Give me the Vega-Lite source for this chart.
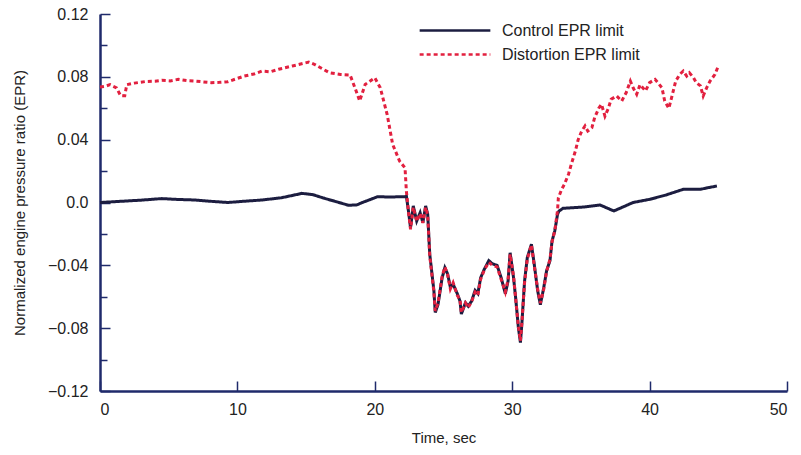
{
  "$schema": "https://vega.github.io/schema/vega-lite/v6.json",
  "width": 687,
  "height": 377,
  "autosize": {"type": "none"},
  "padding": {"left": 100, "top": 14, "right": 14, "bottom": 64},
  "background": "white",
  "config": {
    "view": {"stroke": null},
    "font": "Liberation Sans",
    "axis": {"domainColor": "#1f2a6b", "domainWidth": 2.5, "tickColor": "#1f2a6b", "tickWidth": 1.5, "labelFont": "Liberation Sans", "labelFontSize": 16, "labelColor": "#222", "titleFont": "Liberation Sans", "titleFontSize": 15, "titleFontWeight": "normal", "titleColor": "#222", "grid": false}
  },
  "data": {"values": [
    {"t": 0, "v": 0.0, "s": "Control EPR limit"},
    {"t": 1, "v": 0.0005, "s": "Control EPR limit"},
    {"t": 2, "v": 0.001, "s": "Control EPR limit"},
    {"t": 3, "v": 0.0015, "s": "Control EPR limit"},
    {"t": 4.5, "v": 0.0025, "s": "Control EPR limit"},
    {"t": 5.5, "v": 0.002, "s": "Control EPR limit"},
    {"t": 6.9, "v": 0.0016, "s": "Control EPR limit"},
    {"t": 8, "v": 0.0008, "s": "Control EPR limit"},
    {"t": 9.3, "v": 0.0, "s": "Control EPR limit"},
    {"t": 10.5, "v": 0.0008, "s": "Control EPR limit"},
    {"t": 11.8, "v": 0.0016, "s": "Control EPR limit"},
    {"t": 13.2, "v": 0.003, "s": "Control EPR limit"},
    {"t": 14.7, "v": 0.0058, "s": "Control EPR limit"},
    {"t": 15.5, "v": 0.005, "s": "Control EPR limit"},
    {"t": 16.2, "v": 0.003, "s": "Control EPR limit"},
    {"t": 17.2, "v": 0.0005, "s": "Control EPR limit"},
    {"t": 18.1, "v": -0.0018, "s": "Control EPR limit"},
    {"t": 18.7, "v": -0.0015, "s": "Control EPR limit"},
    {"t": 19.1, "v": 0.0, "s": "Control EPR limit"},
    {"t": 19.7, "v": 0.002, "s": "Control EPR limit"},
    {"t": 20.2, "v": 0.0037, "s": "Control EPR limit"},
    {"t": 21, "v": 0.0035, "s": "Control EPR limit"},
    {"t": 22.2, "v": 0.0037, "s": "Control EPR limit"},
    {"t": 22.3, "v": 0.004, "s": "Control EPR limit"},
    {"t": 22.45, "v": -0.0054, "s": "Control EPR limit"},
    {"t": 22.6, "v": -0.016, "s": "Control EPR limit"},
    {"t": 22.8, "v": -0.0022, "s": "Control EPR limit"},
    {"t": 23.05, "v": -0.0118, "s": "Control EPR limit"},
    {"t": 23.3, "v": -0.0065, "s": "Control EPR limit"},
    {"t": 23.5, "v": -0.0128, "s": "Control EPR limit"},
    {"t": 23.7, "v": -0.0022, "s": "Control EPR limit"},
    {"t": 23.85, "v": -0.0075, "s": "Control EPR limit"},
    {"t": 24.0, "v": -0.033, "s": "Control EPR limit"},
    {"t": 24.3, "v": -0.056, "s": "Control EPR limit"},
    {"t": 24.4, "v": -0.07, "s": "Control EPR limit"},
    {"t": 24.6, "v": -0.065, "s": "Control EPR limit"},
    {"t": 24.9, "v": -0.048, "s": "Control EPR limit"},
    {"t": 25.1, "v": -0.0415, "s": "Control EPR limit"},
    {"t": 25.3, "v": -0.0455, "s": "Control EPR limit"},
    {"t": 25.5, "v": -0.054, "s": "Control EPR limit"},
    {"t": 25.7, "v": -0.052, "s": "Control EPR limit"},
    {"t": 26.0, "v": -0.058, "s": "Control EPR limit"},
    {"t": 26.2, "v": -0.0627, "s": "Control EPR limit"},
    {"t": 26.3, "v": -0.071, "s": "Control EPR limit"},
    {"t": 26.6, "v": -0.0638, "s": "Control EPR limit"},
    {"t": 26.8, "v": -0.066, "s": "Control EPR limit"},
    {"t": 27.05, "v": -0.0627, "s": "Control EPR limit"},
    {"t": 27.3, "v": -0.056, "s": "Control EPR limit"},
    {"t": 27.5, "v": -0.058, "s": "Control EPR limit"},
    {"t": 27.7, "v": -0.048, "s": "Control EPR limit"},
    {"t": 27.97, "v": -0.0425, "s": "Control EPR limit"},
    {"t": 28.3, "v": -0.037, "s": "Control EPR limit"},
    {"t": 28.55, "v": -0.039, "s": "Control EPR limit"},
    {"t": 28.9, "v": -0.04, "s": "Control EPR limit"},
    {"t": 29.2, "v": -0.048, "s": "Control EPR limit"},
    {"t": 29.5, "v": -0.058, "s": "Control EPR limit"},
    {"t": 29.7, "v": -0.05, "s": "Control EPR limit"},
    {"t": 29.85, "v": -0.032, "s": "Control EPR limit"},
    {"t": 30.1, "v": -0.048, "s": "Control EPR limit"},
    {"t": 30.25, "v": -0.0606, "s": "Control EPR limit"},
    {"t": 30.45, "v": -0.0797, "s": "Control EPR limit"},
    {"t": 30.6, "v": -0.0892, "s": "Control EPR limit"},
    {"t": 30.7, "v": -0.0776, "s": "Control EPR limit"},
    {"t": 30.9, "v": -0.05, "s": "Control EPR limit"},
    {"t": 31.1, "v": -0.035, "s": "Control EPR limit"},
    {"t": 31.4, "v": -0.0266, "s": "Control EPR limit"},
    {"t": 31.6, "v": -0.039, "s": "Control EPR limit"},
    {"t": 31.85, "v": -0.056, "s": "Control EPR limit"},
    {"t": 32.05, "v": -0.065, "s": "Control EPR limit"},
    {"t": 32.3, "v": -0.054, "s": "Control EPR limit"},
    {"t": 32.5, "v": -0.0436, "s": "Control EPR limit"},
    {"t": 32.75, "v": -0.037, "s": "Control EPR limit"},
    {"t": 32.9, "v": -0.0245, "s": "Control EPR limit"},
    {"t": 33.1, "v": -0.018, "s": "Control EPR limit"},
    {"t": 33.3, "v": -0.0075, "s": "Control EPR limit"},
    {"t": 33.4, "v": -0.0055, "s": "Control EPR limit"},
    {"t": 33.7, "v": -0.0037, "s": "Control EPR limit"},
    {"t": 35.2, "v": -0.0029, "s": "Control EPR limit"},
    {"t": 36.4, "v": -0.0016, "s": "Control EPR limit"},
    {"t": 37.4, "v": -0.0054, "s": "Control EPR limit"},
    {"t": 38.8, "v": 0.0, "s": "Control EPR limit"},
    {"t": 40.0, "v": 0.002, "s": "Control EPR limit"},
    {"t": 41.2, "v": 0.0048, "s": "Control EPR limit"},
    {"t": 42.45, "v": 0.0084, "s": "Control EPR limit"},
    {"t": 43.7, "v": 0.0084, "s": "Control EPR limit"},
    {"t": 44.3, "v": 0.0095, "s": "Control EPR limit"},
    {"t": 44.9, "v": 0.0105, "s": "Control EPR limit"},

    {"t": 0, "v": 0.0735, "s": "Distortion EPR limit"},
    {"t": 0.4, "v": 0.074, "s": "Distortion EPR limit"},
    {"t": 0.73, "v": 0.075, "s": "Distortion EPR limit"},
    {"t": 1.2, "v": 0.073, "s": "Distortion EPR limit"},
    {"t": 1.5, "v": 0.068, "s": "Distortion EPR limit"},
    {"t": 1.8, "v": 0.068, "s": "Distortion EPR limit"},
    {"t": 1.95, "v": 0.075, "s": "Distortion EPR limit"},
    {"t": 2.5, "v": 0.076, "s": "Distortion EPR limit"},
    {"t": 3.3, "v": 0.077, "s": "Distortion EPR limit"},
    {"t": 4.0, "v": 0.0772, "s": "Distortion EPR limit"},
    {"t": 4.5, "v": 0.0778, "s": "Distortion EPR limit"},
    {"t": 5.1, "v": 0.0774, "s": "Distortion EPR limit"},
    {"t": 5.7, "v": 0.0784, "s": "Distortion EPR limit"},
    {"t": 6.3, "v": 0.0776, "s": "Distortion EPR limit"},
    {"t": 6.9, "v": 0.0773, "s": "Distortion EPR limit"},
    {"t": 7.5, "v": 0.0768, "s": "Distortion EPR limit"},
    {"t": 8.1, "v": 0.0763, "s": "Distortion EPR limit"},
    {"t": 8.7, "v": 0.0765, "s": "Distortion EPR limit"},
    {"t": 9.3, "v": 0.0769, "s": "Distortion EPR limit"},
    {"t": 10.5, "v": 0.0805, "s": "Distortion EPR limit"},
    {"t": 11.2, "v": 0.0818, "s": "Distortion EPR limit"},
    {"t": 11.8, "v": 0.0837, "s": "Distortion EPR limit"},
    {"t": 12.4, "v": 0.0832, "s": "Distortion EPR limit"},
    {"t": 13, "v": 0.0848, "s": "Distortion EPR limit"},
    {"t": 14, "v": 0.0869, "s": "Distortion EPR limit"},
    {"t": 15.2, "v": 0.0894, "s": "Distortion EPR limit"},
    {"t": 15.6, "v": 0.088, "s": "Distortion EPR limit"},
    {"t": 16.7, "v": 0.0826, "s": "Distortion EPR limit"},
    {"t": 17.5, "v": 0.0815, "s": "Distortion EPR limit"},
    {"t": 18.2, "v": 0.0812, "s": "Distortion EPR limit"},
    {"t": 18.6, "v": 0.072, "s": "Distortion EPR limit"},
    {"t": 18.9, "v": 0.0646, "s": "Distortion EPR limit"},
    {"t": 19.3, "v": 0.0752, "s": "Distortion EPR limit"},
    {"t": 20, "v": 0.0794, "s": "Distortion EPR limit"},
    {"t": 20.4, "v": 0.073, "s": "Distortion EPR limit"},
    {"t": 20.9, "v": 0.056, "s": "Distortion EPR limit"},
    {"t": 21.3, "v": 0.037, "s": "Distortion EPR limit"},
    {"t": 21.8, "v": 0.0264, "s": "Distortion EPR limit"},
    {"t": 22.2, "v": 0.022, "s": "Distortion EPR limit"},
    {"t": 22.3, "v": 0.007, "s": "Distortion EPR limit"},
    {"t": 22.45, "v": -0.006, "s": "Distortion EPR limit"},
    {"t": 22.6, "v": -0.017, "s": "Distortion EPR limit"},
    {"t": 22.8, "v": -0.003, "s": "Distortion EPR limit"},
    {"t": 23.05, "v": -0.012, "s": "Distortion EPR limit"},
    {"t": 23.3, "v": -0.007, "s": "Distortion EPR limit"},
    {"t": 23.5, "v": -0.013, "s": "Distortion EPR limit"},
    {"t": 23.7, "v": -0.003, "s": "Distortion EPR limit"},
    {"t": 23.85, "v": -0.008, "s": "Distortion EPR limit"},
    {"t": 24.0, "v": -0.034, "s": "Distortion EPR limit"},
    {"t": 24.3, "v": -0.057, "s": "Distortion EPR limit"},
    {"t": 24.4, "v": -0.069, "s": "Distortion EPR limit"},
    {"t": 24.6, "v": -0.064, "s": "Distortion EPR limit"},
    {"t": 24.9, "v": -0.047, "s": "Distortion EPR limit"},
    {"t": 25.1, "v": -0.041, "s": "Distortion EPR limit"},
    {"t": 25.3, "v": -0.046, "s": "Distortion EPR limit"},
    {"t": 25.5, "v": -0.055, "s": "Distortion EPR limit"},
    {"t": 25.7, "v": -0.051, "s": "Distortion EPR limit"},
    {"t": 26.0, "v": -0.059, "s": "Distortion EPR limit"},
    {"t": 26.2, "v": -0.062, "s": "Distortion EPR limit"},
    {"t": 26.3, "v": -0.07, "s": "Distortion EPR limit"},
    {"t": 26.6, "v": -0.064, "s": "Distortion EPR limit"},
    {"t": 26.8, "v": -0.067, "s": "Distortion EPR limit"},
    {"t": 27.05, "v": -0.063, "s": "Distortion EPR limit"},
    {"t": 27.3, "v": -0.057, "s": "Distortion EPR limit"},
    {"t": 27.5, "v": -0.059, "s": "Distortion EPR limit"},
    {"t": 27.7, "v": -0.049, "s": "Distortion EPR limit"},
    {"t": 27.97, "v": -0.043, "s": "Distortion EPR limit"},
    {"t": 28.3, "v": -0.038, "s": "Distortion EPR limit"},
    {"t": 28.55, "v": -0.04, "s": "Distortion EPR limit"},
    {"t": 28.9, "v": -0.041, "s": "Distortion EPR limit"},
    {"t": 29.2, "v": -0.049, "s": "Distortion EPR limit"},
    {"t": 29.5, "v": -0.057, "s": "Distortion EPR limit"},
    {"t": 29.7, "v": -0.049, "s": "Distortion EPR limit"},
    {"t": 29.85, "v": -0.033, "s": "Distortion EPR limit"},
    {"t": 30.1, "v": -0.047, "s": "Distortion EPR limit"},
    {"t": 30.25, "v": -0.061, "s": "Distortion EPR limit"},
    {"t": 30.45, "v": -0.079, "s": "Distortion EPR limit"},
    {"t": 30.6, "v": -0.088, "s": "Distortion EPR limit"},
    {"t": 30.7, "v": -0.077, "s": "Distortion EPR limit"},
    {"t": 30.9, "v": -0.051, "s": "Distortion EPR limit"},
    {"t": 31.1, "v": -0.036, "s": "Distortion EPR limit"},
    {"t": 31.4, "v": -0.027, "s": "Distortion EPR limit"},
    {"t": 31.6, "v": -0.04, "s": "Distortion EPR limit"},
    {"t": 31.85, "v": -0.055, "s": "Distortion EPR limit"},
    {"t": 32.05, "v": -0.064, "s": "Distortion EPR limit"},
    {"t": 32.3, "v": -0.055, "s": "Distortion EPR limit"},
    {"t": 32.5, "v": -0.044, "s": "Distortion EPR limit"},
    {"t": 32.75, "v": -0.036, "s": "Distortion EPR limit"},
    {"t": 32.9, "v": -0.025, "s": "Distortion EPR limit"},
    {"t": 33.1, "v": -0.018, "s": "Distortion EPR limit"},
    {"t": 33.3, "v": -0.005, "s": "Distortion EPR limit"},
    {"t": 33.36, "v": 0.003, "s": "Distortion EPR limit"},
    {"t": 33.6, "v": 0.0084, "s": "Distortion EPR limit"},
    {"t": 33.8, "v": 0.0116, "s": "Distortion EPR limit"},
    {"t": 34.1, "v": 0.018, "s": "Distortion EPR limit"},
    {"t": 34.3, "v": 0.0243, "s": "Distortion EPR limit"},
    {"t": 34.6, "v": 0.0328, "s": "Distortion EPR limit"},
    {"t": 34.8, "v": 0.04, "s": "Distortion EPR limit"},
    {"t": 35.06, "v": 0.0455, "s": "Distortion EPR limit"},
    {"t": 35.3, "v": 0.0487, "s": "Distortion EPR limit"},
    {"t": 35.5, "v": 0.0455, "s": "Distortion EPR limit"},
    {"t": 35.8, "v": 0.0476, "s": "Distortion EPR limit"},
    {"t": 36.0, "v": 0.054, "s": "Distortion EPR limit"},
    {"t": 36.3, "v": 0.06, "s": "Distortion EPR limit"},
    {"t": 36.5, "v": 0.0625, "s": "Distortion EPR limit"},
    {"t": 36.75, "v": 0.055, "s": "Distortion EPR limit"},
    {"t": 37.0, "v": 0.06, "s": "Distortion EPR limit"},
    {"t": 37.2, "v": 0.0657, "s": "Distortion EPR limit"},
    {"t": 37.6, "v": 0.0678, "s": "Distortion EPR limit"},
    {"t": 37.97, "v": 0.0646, "s": "Distortion EPR limit"},
    {"t": 38.3, "v": 0.07, "s": "Distortion EPR limit"},
    {"t": 38.6, "v": 0.0773, "s": "Distortion EPR limit"},
    {"t": 38.8, "v": 0.073, "s": "Distortion EPR limit"},
    {"t": 39.06, "v": 0.0689, "s": "Distortion EPR limit"},
    {"t": 39.3, "v": 0.075, "s": "Distortion EPR limit"},
    {"t": 39.7, "v": 0.071, "s": "Distortion EPR limit"},
    {"t": 40.0, "v": 0.0763, "s": "Distortion EPR limit"},
    {"t": 40.4, "v": 0.0784, "s": "Distortion EPR limit"},
    {"t": 40.6, "v": 0.0763, "s": "Distortion EPR limit"},
    {"t": 40.9, "v": 0.073, "s": "Distortion EPR limit"},
    {"t": 41.1, "v": 0.0646, "s": "Distortion EPR limit"},
    {"t": 41.4, "v": 0.06, "s": "Distortion EPR limit"},
    {"t": 41.6, "v": 0.0667, "s": "Distortion EPR limit"},
    {"t": 41.9, "v": 0.0773, "s": "Distortion EPR limit"},
    {"t": 42.2, "v": 0.0816, "s": "Distortion EPR limit"},
    {"t": 42.45, "v": 0.0837, "s": "Distortion EPR limit"},
    {"t": 42.7, "v": 0.0805, "s": "Distortion EPR limit"},
    {"t": 42.9, "v": 0.0826, "s": "Distortion EPR limit"},
    {"t": 43.2, "v": 0.0794, "s": "Distortion EPR limit"},
    {"t": 43.4, "v": 0.0763, "s": "Distortion EPR limit"},
    {"t": 43.7, "v": 0.0742, "s": "Distortion EPR limit"},
    {"t": 43.9, "v": 0.0678, "s": "Distortion EPR limit"},
    {"t": 44.15, "v": 0.073, "s": "Distortion EPR limit"},
    {"t": 44.4, "v": 0.0773, "s": "Distortion EPR limit"},
    {"t": 44.76, "v": 0.0816, "s": "Distortion EPR limit"},
    {"t": 45.0, "v": 0.0869, "s": "Distortion EPR limit"}
  ]},
  "layer": [
    {
      "mark": {"type": "line", "strokeWidth": 3, "interpolate": "linear"},
      "encoding": {
        "x": {"field": "t", "type": "quantitative", "scale": {"domain": [0, 50], "nice": false, "zero": false}, "axis": {"title": "Time, sec", "values": [0, 10, 20, 30, 40, 50], "tickSize": -10, "labelPadding": 20, "titlePadding": 13}},
        "y": {"field": "v", "type": "quantitative", "scale": {"domain": [-0.12, 0.12], "nice": false, "zero": false}, "axis": {"orient": "left", "title": "Normalized engine pressure ratio (EPR)", "values": [-0.12, -0.08, -0.04, 0, 0.04, 0.08, 0.12], "labelExpr": "datum.value == 0 ? '0.0' : replace(format(datum.value, '.2f'), '-', '\u2013')", "tickSize": -10, "labelPadding": 22, "titlePadding": 20}},
        "color": {"field": "s", "type": "nominal", "scale": {"domain": ["Control EPR limit", "Distortion EPR limit"], "range": ["#1c1d40", "#e2203f"]}, "legend": {"title": null, "orient": "none", "legendX": 318, "legendY": 8, "labelFontSize": 16, "labelFont": "Liberation Sans", "labelColor": "#222", "symbolType": "stroke", "symbolSize": 5000, "symbolStrokeWidth": 2.5, "clipHeight": 17, "rowPadding": 7, "labelOffset": 10}},
        "strokeDash": {"field": "s", "type": "nominal", "scale": {"domain": ["Control EPR limit", "Distortion EPR limit"], "range": [[1, 0], [4, 3]]}, "legend": null}
      }
    },
    {
      "mark": {"type": "point", "opacity": 0},
      "encoding": {
        "x": {"field": "t", "type": "quantitative", "scale": {"domain": [0, 50], "nice": false, "zero": false}},
        "y": {"field": "v", "type": "quantitative", "scale": {"domain": [-0.12, 0.12], "nice": false, "zero": false}, "axis": {"orient": "left", "title": null, "values": [-0.1, -0.06, -0.02, 0.02, 0.06, 0.1], "labels": false, "domain": false, "tickSize": -7}}
      }
    }
  ],
  "resolve": {"axis": {"y": "independent"}}
}
